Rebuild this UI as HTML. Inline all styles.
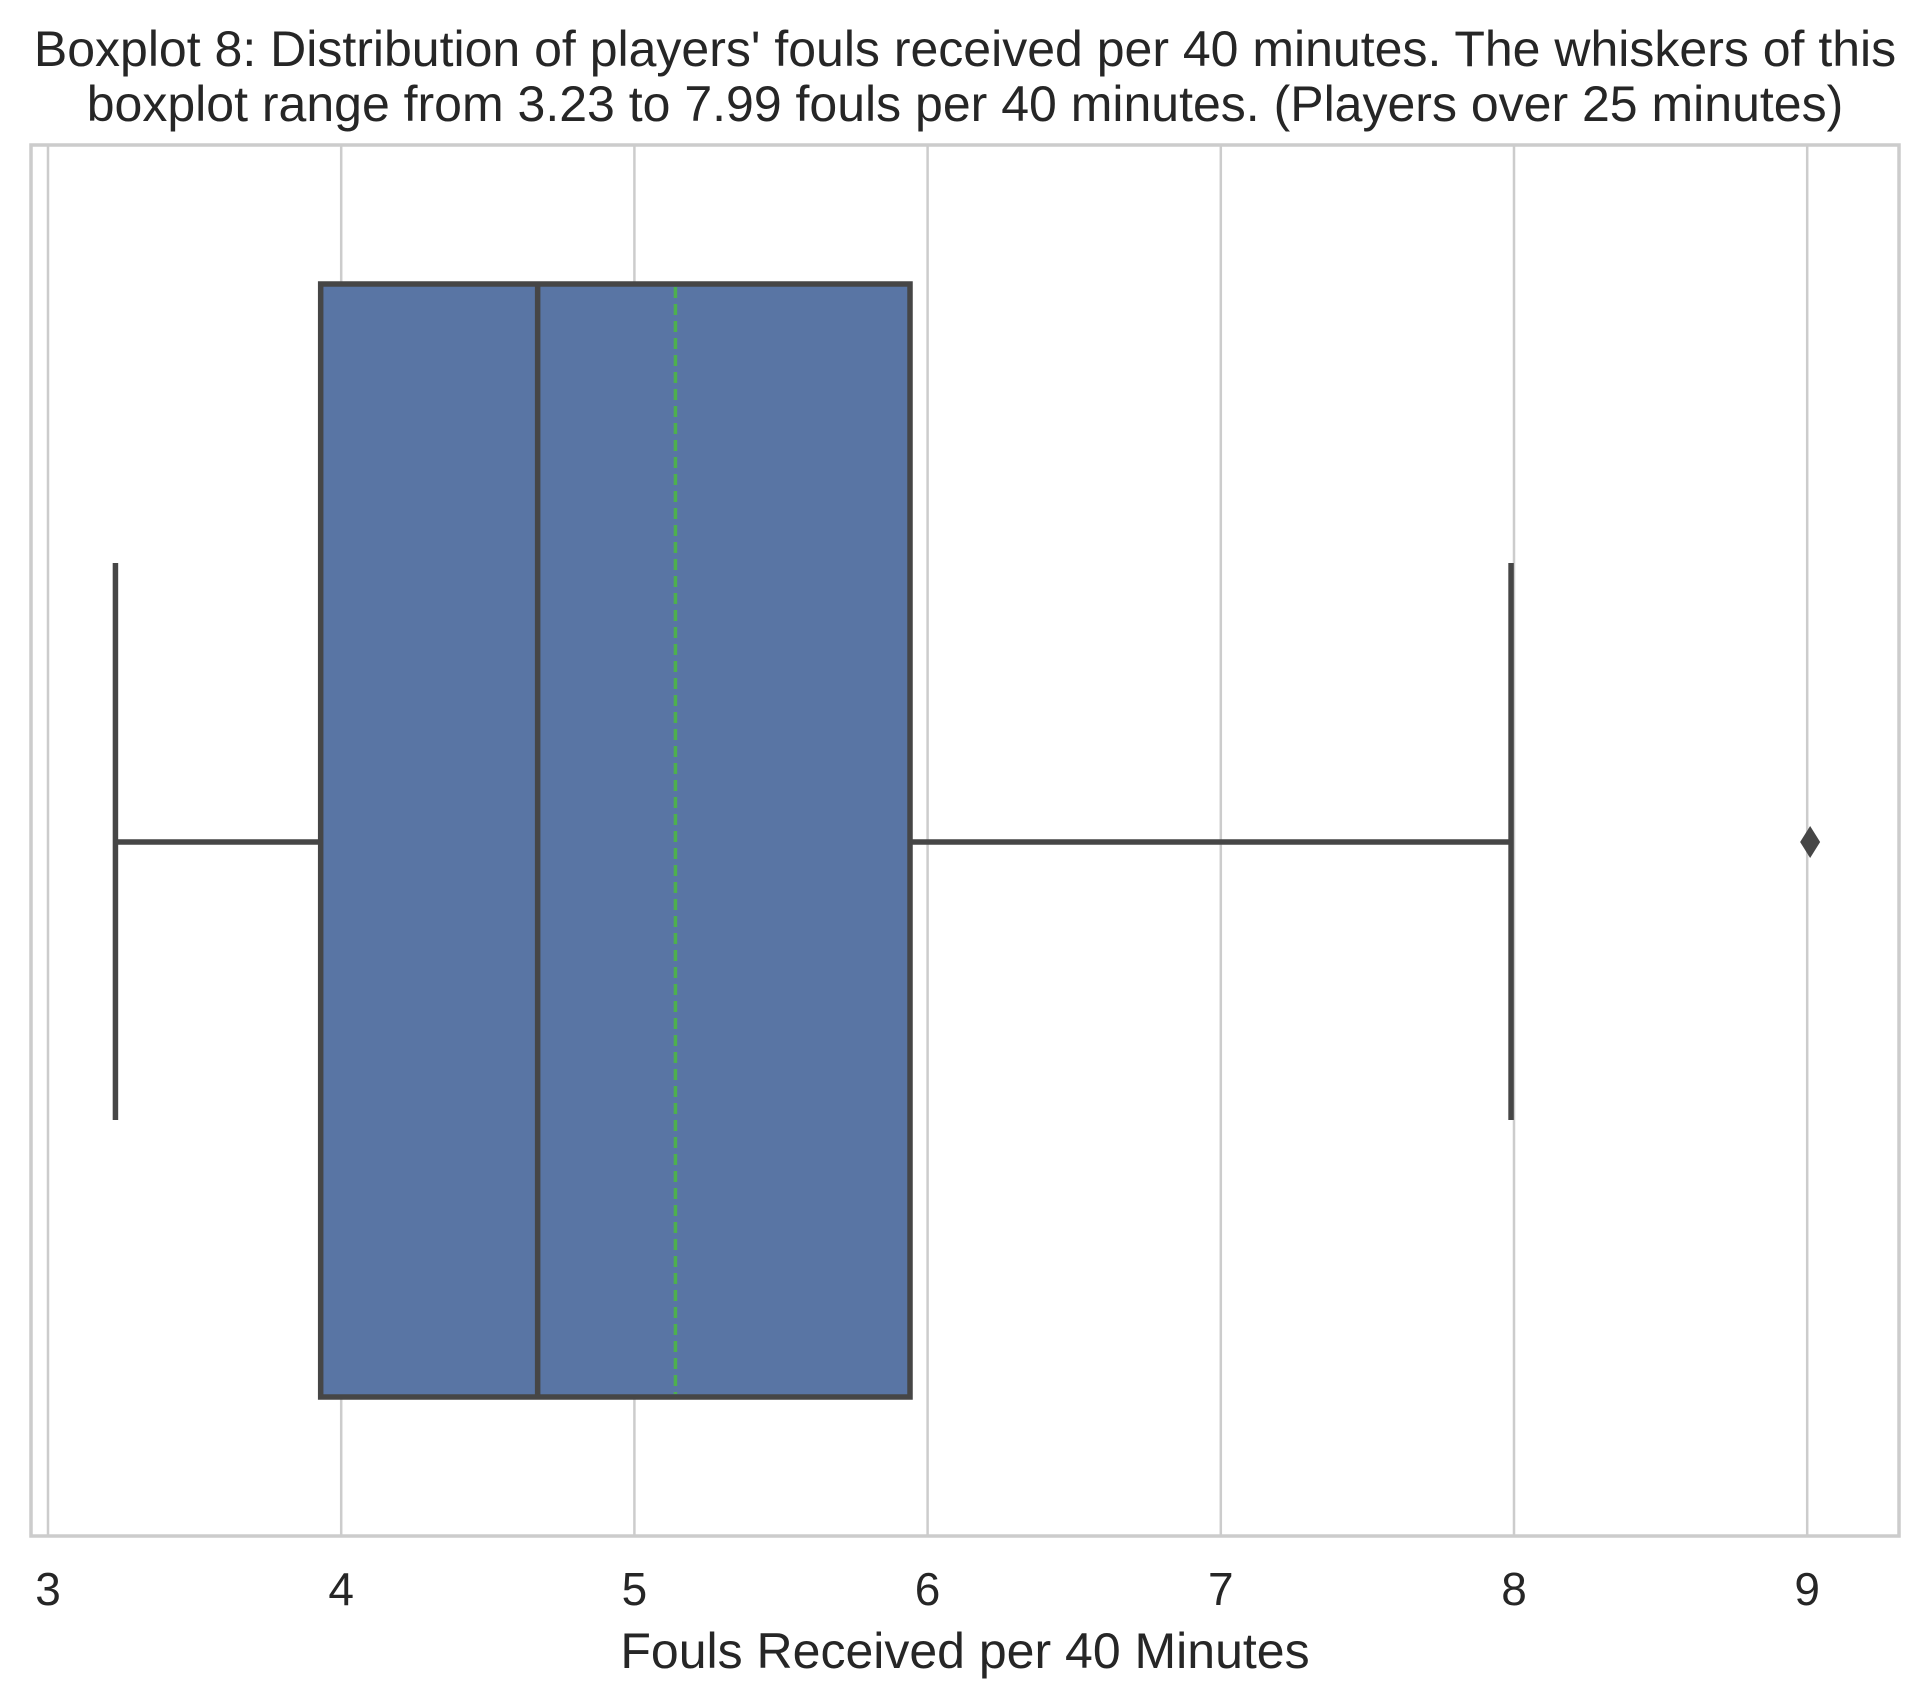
<!DOCTYPE html>
<html><head><meta charset="utf-8"><style>
html,body{margin:0;padding:0;background:#fff;}
svg{display:block;font-family:"Liberation Sans",Arial,sans-serif;}
</style></head><body>
<svg id="chart" width="1921" height="1705" viewBox="0 0 1921 1705">
<text x="965" y="66" text-anchor="middle" font-size="50" fill="#262626">Boxplot 8: Distribution of players' fouls received per 40 minutes. The whiskers of this</text>
<text x="965" y="121" text-anchor="middle" font-size="50" fill="#262626">boxplot range from 3.23 to 7.99 fouls per 40 minutes. (Players over 25 minutes)</text>
<g id="grid"></g>
<g id="marks"></g>
<rect x="31" y="145" width="1868" height="1391" fill="none" stroke="#cccccc" stroke-width="3.5"/>
<g id="ticks"></g>
<text x="965" y="1668" text-anchor="middle" font-size="50" fill="#262626">Fouls Received per 40 Minutes</text>
</svg>
<script>
const tickValues = [3,4,5,6,7,8,9];
const tickLabels = ["3","4","5","6","7","8","9"];
const whiskerLow = [3.23];
const q1 = [3.93];
const median = [4.67];
const mean = [5.14];
const q3 = [5.94];
const whiskerHigh = [7.99];
const outliers = [9.01];

const NS = "http://www.w3.org/2000/svg";
const xs = v => 48 + (v - 3) * 293.2;
const plotTop = 145, plotBottom = 1536, boxTop = 284, boxBot = 1397, capTop = 563, capBot = 1120, cy = 842;
function mk(tag, attrs, parent){const e=document.createElementNS(NS,tag);for(const k in attrs)e.setAttribute(k,attrs[k]);document.getElementById(parent).appendChild(e);return e;}

tickValues.forEach((t,i)=>{
  const g = mk('line',{x1:xs(t),x2:xs(t),y1:plotTop,y2:plotBottom,stroke:'#cccccc','stroke-width':2.5},'grid');
  
  
  const l = mk('text',{x:xs(t),y:1605,'text-anchor':'middle','font-size':46,fill:'#262626'},'ticks');
  l.textContent = tickLabels[i];
  
  
});

const c = '#464646';
let e;
e = mk('line',{x1:xs(whiskerLow[0]),x2:xs(q1[0]),y1:cy,y2:cy,stroke:c,'stroke-width':5.5},'marks');


e = mk('line',{x1:xs(q3[0]),x2:xs(whiskerHigh[0]),y1:cy,y2:cy,stroke:c,'stroke-width':5.5},'marks');


e = mk('line',{x1:xs(whiskerLow[0]),x2:xs(whiskerLow[0]),y1:capTop,y2:capBot,stroke:c,'stroke-width':5.5},'marks');


e = mk('line',{x1:xs(whiskerHigh[0]),x2:xs(whiskerHigh[0]),y1:capTop,y2:capBot,stroke:c,'stroke-width':5.5},'marks');


e = mk('rect',{x:xs(q1[0]),y:boxTop,width:xs(q3[0])-xs(q1[0]),height:boxBot-boxTop,fill:'#5975a4',stroke:c,'stroke-width':5.5},'marks');


e = mk('line',{x1:xs(median[0]),x2:xs(median[0]),y1:boxTop,y2:boxBot,stroke:c,'stroke-width':5.5},'marks');


e = mk('line',{x1:xs(mean[0]),x2:xs(mean[0]),y1:boxTop+3,y2:boxBot-3,stroke:'#4eb04e','stroke-width':3.5,'stroke-dasharray':'11,6'},'marks');


outliers.forEach(v=>{
  const px=xs(v);
  const o = mk('polygon',{points:`${px},${cy-16} ${px+10},${cy} ${px},${cy+16} ${px-10},${cy}`,fill:c},'marks');
  
  
});
</script>
</body></html>
